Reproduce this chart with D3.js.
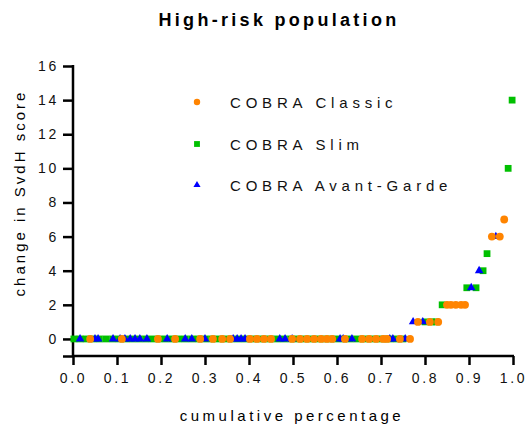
<!DOCTYPE html>
<html>
<head>
<meta charset="utf-8">
<title>High-risk population</title>
<script src="https://cdn.jsdelivr.net/npm/d3@7"></script>
<style>
  body { margin: 0; background: #fff; }
  text { font-family: "Liberation Sans", Arial, sans-serif; }
</style>
</head>
<body>
<script>

// data: [cumulative percentage, change in SvdH score]
var slimX = [0.002, 0.016, 0.030, 0.045, 0.060, 0.075, 0.090, 0.105, 0.120, 0.135, 0.150, 0.165, 0.180,
  0.195, 0.210, 0.225, 0.240, 0.255, 0.270, 0.285, 0.300, 0.315, 0.330, 0.345, 0.360, 0.375, 0.390,
  0.405, 0.420, 0.435, 0.450, 0.465, 0.480, 0.495, 0.510, 0.525, 0.540, 0.555, 0.570, 0.585, 0.600,
  0.615, 0.630, 0.645, 0.660, 0.675, 0.690, 0.705, 0.720, 0.735, 0.750,
  0.800, 0.815, 0.825, 0.839, 0.895, 0.916, 0.932, 0.941, 0.989, 0.998]
var slimY = [0, 0, 0, 0, 0, 0, 0, 0, 0, 0, 0, 0, 0,
  0, 0, 0, 0, 0, 0, 0, 0, 0, 0, 0, 0, 0, 0,
  0, 0, 0, 0, 0, 0, 0, 0, 0, 0, 0, 0, 0, 0,
  0, 0, 0, 0, 0, 0, 0, 0, 0, 0,
  1, 1, 1, 2, 3, 3, 4, 5, 10, 14]

var avantX = [0.016, 0.050, 0.057, 0.091, 0.107, 0.118, 0.130, 0.141, 0.152, 0.168, 0.214, 0.255, 0.270,
  0.300, 0.364, 0.373, 0.382, 0.391, 0.470, 0.482, 0.498, 0.607, 0.614, 0.634, 0.720, 0.727, 0.755,
  0.773, 0.795, 0.905, 0.923, 0.961]
var avantY = [0, 0, 0, 0, 0, 0, 0, 0, 0, 0, 0, 0, 0,
  0, 0, 0, 0, 0, 0, 0, 0, 0, 0, 0, 0, 0, 0,
  1, 1, 3, 4, 6]

var classicX = [0.039, 0.111, 0.193, 0.232, 0.289, 0.318, 0.339, 0.357, 0.402, 0.418, 0.434, 0.450, 0.498,
  0.516, 0.532, 0.548, 0.564, 0.577, 0.589, 0.618, 0.657, 0.673, 0.689, 0.705, 0.714, 0.743, 0.766,
  0.784, 0.811, 0.830, 0.850, 0.859, 0.870, 0.882, 0.891, 0.952, 0.970, 0.980]
var classicY = [0, 0, 0, 0, 0, 0, 0, 0, 0, 0, 0, 0, 0,
  0, 0, 0, 0, 0, 0, 0, 0, 0, 0, 0, 0, 0, 0,
  1, 1, 1, 2, 2, 2, 2, 2, 6, 6, 7]

var xTicks = [0, 0.1, 0.2, 0.3, 0.4, 0.5, 0.6, 0.7, 0.8, 0.9, 1.0]
var yTicks = [-1, 0, 2, 4, 6, 8, 10, 12, 14, 16]
var seriesNames = ["COBRA Classic", "COBRA Slim", "COBRA Avant-Garde"]

var w = 530
var h = 433

var svg = d3.select("body").append("svg").attr("width", w).attr("height", h)

var x = d3.scaleLinear().domain([0, 1]).range([73, 513])
var y = d3.scaleLinear().domain([-1, 16]).range([356, 66])

// title
svg.append("text")
    .attr("x", 279).attr("y", 26)
    .attr("text-anchor", "middle")
    .style("font-size", "18px").style("font-weight", "bold").style("letter-spacing", "3.3px")
    .text("High-risk population")

// axes
var xAxis = svg.append("g")
    .attr("transform", "translate(0," + y(-1) + ")")
    .call(d3.axisBottom(x).tickValues(xTicks).tickFormat(d3.format(".1f")).tickSize(9).tickPadding(8))
var yAxis = svg.append("g")
    .attr("transform", "translate(" + x(0) + ",0)")
    .call(d3.axisLeft(y).tickValues(yTicks).tickFormat(function(d) { return d < 0 ? "" : d }).tickSize(10).tickPadding(4))

svg.selectAll(".domain").attr("stroke", "#000").attr("stroke-width", 2.5)
svg.selectAll(".tick line").attr("stroke", "#000").attr("stroke-width", 2.5)
svg.selectAll(".tick text")
    .attr("fill", "#111")
    .style("font-family", "'Liberation Sans', Arial, sans-serif")
    .style("font-size", "14px").style("letter-spacing", "2.7px")
xAxis.selectAll(".domain").attr("d", "M" + x(0) + ",0H" + (x(1) + 1))
yAxis.selectAll(".domain").attr("d", "M0," + (y(-1) + 1) + "V" + (y(16) - 1))

// axis titles
svg.append("text")
    .attr("x", 292).attr("y", 421)
    .attr("text-anchor", "middle")
    .style("font-size", "15px").style("letter-spacing", "3.5px")
    .text("cumulative percentage")
svg.append("text")
    .attr("transform", "translate(25,193) rotate(-90)")
    .attr("text-anchor", "middle")
    .style("font-size", "15px").style("letter-spacing", "3px")
    .text("change in SvdH score")

var orange = "#ff8400", green = "#00c000", blue = "#0000ff"

function plot(xs, ys, shape, size, color) {
    svg.append("g").selectAll("path")
        .data(d3.zip(xs, ys)).enter()
        .append("path")
        .attr("transform", function(d) { return "translate(" + x(d[0]) + "," + y(d[1]) + ")" })
        .attr("d", d3.symbol().type(shape).size(size))
        .attr("fill", color)
}

plot(slimX, slimY, d3.symbolSquare, 46, green)
plot(avantX, avantY, d3.symbolTriangle, 32, blue)
plot(classicX, classicY, d3.symbolCircle, 48, orange)

// legend
var legendY = [102, 144, 185]
var legendShapes = [d3.symbolCircle, d3.symbolSquare, d3.symbolTriangle]
var legendSizes = [32, 34, 22]
var legendColors = [orange, green, blue]
seriesNames.forEach(function(name, i) {
    svg.append("path")
        .attr("transform", "translate(197," + legendY[i] + ")")
        .attr("d", d3.symbol().type(legendShapes[i]).size(legendSizes[i]))
        .attr("fill", legendColors[i])
    svg.append("text")
        .attr("x", 230).attr("y", legendY[i] + 6)
        .style("font-size", "15px").style("letter-spacing", "4.8px")
        .attr("fill", "#111")
        .text(name)
})

</script>
</body>
</html>
